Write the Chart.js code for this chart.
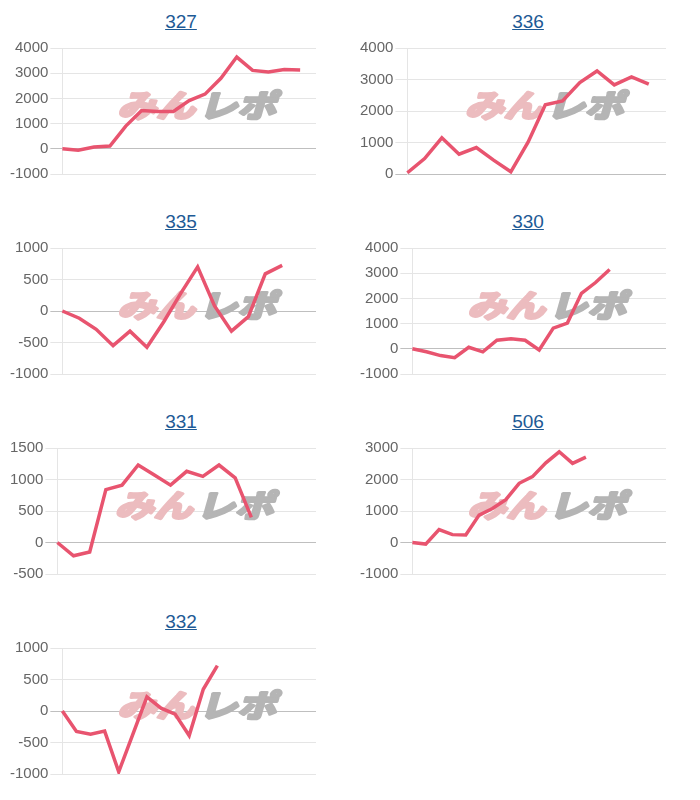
<!DOCTYPE html>
<html>
<head>
<meta charset="utf-8">
<script src="https://cdn.jsdelivr.net/npm/chart.js@4.4.0/dist/chart.umd.min.js"></script>
<style>
  body { margin: 0; background: #fff; }
  #wrap { position: relative; width: 700px; height: 800px; }
  .cell { position: absolute; width: 340px; height: 200px; }
  .cell a {
    position: absolute; top: 11px; left: 0; width: 100%;
    text-align: center; font: 19px "Liberation Sans", Arial, sans-serif;
    color: #1d5a95; text-decoration: underline;
  }
  .cell canvas { position: absolute; top: 37px; }
</style>
</head>
<body>
<div id="wrap"></div>
<script>
// chart titles (machine numbers)
const titles = ["327", "336", "335", "330", "331", "506", "332"];

// x categories (days) per chart
const days327 = [1, 2, 3, 4, 5, 6, 7, 8, 9, 10, 11, 12, 13, 14, 15, 16, 17];
const days336 = [1, 2, 3, 4, 5, 6, 7, 8, 9, 10, 11, 12, 13, 14, 15, 16];
const days335 = [1, 2, 3, 4, 5, 6, 7, 8, 9, 10, 11, 12, 13, 14, 15, 16];
const days330 = [1, 2, 3, 4, 5, 6, 7, 8, 9, 10, 11, 12, 13, 14, 15, 16, 17, 18, 19];
const days331 = [1, 2, 3, 4, 5, 6, 7, 8, 9, 10, 11, 12, 13, 14, 15, 16, 17];
const days506 = [1, 2, 3, 4, 5, 6, 7, 8, 9, 10, 11, 12, 13, 14, 15, 16, 17, 18, 19, 20];
const days332 = [1, 2, 3, 4, 5, 6, 7, 8, 9, 10, 11, 12, 13, 14, 15, 16, 17, 18, 19];

// cumulative difference values
const vals327 = [0, -60, 70, 110, 900, 1520, 1480, 1480, 1910, 2170, 2800, 3640, 3110, 3050, 3150, 3130];
const vals336 = [40, 490, 1150, 630, 840, 440, 70, 1010, 2200, 2320, 2900, 3270, 2830, 3080, 2850];
const vals335 = [0, -115, -290, -550, -320, -575, -170, 280, 700, 80, -320, -90, 590, 725];
const vals330 = [0, -120, -270, -350, 60, -120, 340, 400, 340, -50, 820, 1020, 2200, 2630, 3150];
const vals331 = [0, -210, -150, 840, 910, 1230, 1070, 910, 1130, 1050, 1230, 1025, 400];
const vals506 = [0, -50, 410, 250, 240, 870, 1080, 1360, 1880, 2090, 2530, 2880, 2510, 2710];
const vals332 = [0, -325, -370, -320, -965, -370, 225, 45, -50, -390, 345, 720];

// y axis ranges [min, max, step]
const yRange327 = [-1000, 4000, 1000];
const yRange336 = [0, 4000, 1000];
const yRange335 = [-1000, 1000, 500];
const yRange330 = [-1000, 4000, 1000];
const yRange331 = [-500, 1500, 500];
const yRange506 = [-1000, 3000, 1000];
const yRange332 = [-1000, 1000, 500];

const charts = [
  [days327, vals327, yRange327],
  [days336, vals336, yRange336],
  [days335, vals335, yRange335],
  [days330, vals330, yRange330],
  [days331, vals331, yRange331],
  [days506, vals506, yRange506],
  [days332, vals332, yRange332],
];

/**
 * Draws the faint "みんレポ" mark behind the line
 */
const watermark = {
  id: "watermark",
  beforeDatasetsDraw(chart) {
    const { ctx, chartArea: a } = chart;
    const cx = (a.left + a.right) / 2 + 9;
    const cy = (a.top + a.bottom) / 2 - 6;
    ctx.save();
    ctx.translate(cx, cy);
    ctx.transform(1.25, 0, -0.28, 1, 0, 0);
    ctx.font = "bold 31px 'Noto Sans CJK JP'";
    ctx.textBaseline = "middle";
    ctx.lineWidth = 3;
    ctx.lineJoin = "round";

    ctx.textAlign = "right";
    ctx.fillStyle = ctx.strokeStyle = "#ecbcbf";
    ctx.strokeText("みん", 0, 0);
    ctx.fillText("みん", 0, 0);

    ctx.textAlign = "left";
    ctx.fillStyle = ctx.strokeStyle = "#b5b5b5";
    ctx.strokeText("レポ", 3, 0);
    ctx.fillText("レポ", 3, 0);
    ctx.restore();
  },
};

const wrap = document.getElementById("wrap");

charts.forEach(([days, vals, [min, max, step]], i) => {
  const col = i % 2;
  const row = Math.floor(i / 2);

  const cell = document.createElement("div");
  cell.className = "cell";
  cell.style.left = (col * 350 + 8) + "px";
  cell.style.top = (row * 200) + "px";

  const link = document.createElement("a");
  link.href = "#";
  link.textContent = titles[i];
  link.style.left = (col ? 0 : 3) + "px";
  cell.appendChild(link);

  const canvas = document.createElement("canvas");
  canvas.width = 308;
  canvas.height = 148;
  canvas.style.width = "308px";
  canvas.style.height = "148px";
  cell.appendChild(canvas);
  wrap.appendChild(cell);

  new Chart(canvas.getContext("2d"), {
    type: "line",
    data: {
      labels: days,
      datasets: [{
        data: vals,
        borderColor: "#e8546f",
        borderWidth: 3.5,
        pointRadius: 0,
        tension: 0,
        fill: false,
      }],
    },
    options: {
      responsive: false,
      animation: false,
      plugins: {
        legend: { display: false },
        tooltip: { enabled: false },
      },
      scales: {
        x: { display: false },
        y: {
          min: min,
          max: max,
          ticks: {
            stepSize: step,
            padding: 2,
            color: "#666",
            font: { family: "'Liberation Sans', Arial", size: 15 },
            callback: value => String(value),
          },
          grid: {
            tickLength: 12,
            color: ctx => ctx.tick && ctx.tick.value === 0 ? "rgba(0,0,0,0.25)" : "rgba(0,0,0,0.1)",
          },
        },
      },
    },
    plugins: [watermark],
  });
});
</script>
</body>
</html>
